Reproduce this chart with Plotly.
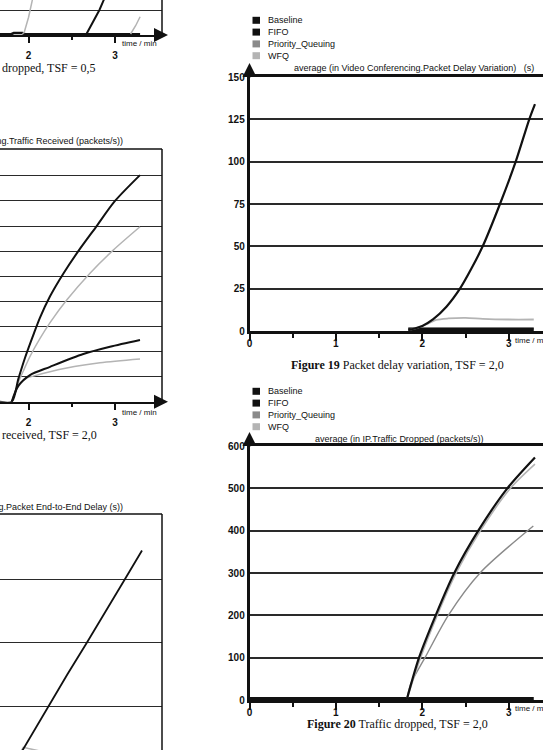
import plotly.graph_objects as go

W, H = 543, 750

# ---------------- data ----------------
# Left top chart: Traffic dropped, TSF = 0,5  (y-units arbitrary, gridline = 1)
a_base_t = [1.66, 1.80, 1.83, 1.93, 1.96, 2.60, 3.29]
a_base_v = [0.03, 0.03, 0.08, 0.08, 0.03, 0.03, 0.03]
a_grey1_t = [1.93, 1.95, 2.00, 2.03, 2.07]
a_grey1_v = [0.05, 0.10, 0.70, 1.20, 1.80]
a_black_t = [2.67, 2.72, 2.82, 2.87, 2.90]
a_black_v = [0.04, 0.35, 1.00, 1.40, 1.70]
a_grey2_t = [3.18, 3.24, 3.29]
a_grey2_v = [0.04, 0.38, 0.73]

# Left middle chart: Traffic Received, TSF = 2,0
b_black1_t = [1.66, 1.806, 1.882, 1.960, 2.055, 2.133, 2.249, 2.402, 2.576, 2.788, 3.000, 3.289]
b_black1_v = [0.0, 0.0, 0.9, 1.75, 2.65, 3.35, 4.2, 5.1, 6.0, 7.0, 8.0, 9.03]
b_grey1_t = [1.806, 1.88, 1.95, 2.017, 2.13, 2.249, 2.442, 2.711, 2.980, 3.289]
b_grey1_v = [0.0, 0.75, 1.3, 1.8, 2.5, 3.15, 4.05, 5.12, 6.04, 6.97]
b_black2_t = [1.806, 1.882, 2.017, 2.249, 2.634, 2.942, 3.289]
b_black2_v = [0.0, 0.63, 1.06, 1.39, 1.90, 2.19, 2.46]
b_grey2_t = [1.806, 1.882, 1.979, 2.055, 2.442, 2.827, 3.289]
b_grey2_v = [0.0, 0.60, 0.94, 1.02, 1.34, 1.55, 1.70]

# Left bottom chart: Packet End-to-End Delay
c_black_t = [1.80, 2.01, 2.237, 2.45, 2.676, 2.90, 3.116, 3.312]
c_black_v = [0.0, 0.49, 1.0, 1.50, 2.0, 2.50, 3.0, 3.45]
c_grey_t = [1.80, 1.94, 2.00, 2.17, 2.50, 3.30]
c_grey_v = [0.0, 0.35, 0.33, 0.28, 0.25, 0.25]

# Figure 19: Packet delay variation (s)
f19_fifo_t = [1.838, 2.0, 2.127, 2.282, 2.436, 2.57, 2.699, 2.899, 3.081, 3.238, 3.304]
f19_fifo_v = [0.5, 3.0, 7.0, 14.5, 25.0, 37.0, 50.0, 75.0, 100.0, 125.0, 134.0]
f19_wfq_t = [1.838, 1.95, 2.05, 2.16, 2.30, 2.50, 2.70, 3.00, 3.29]
f19_wfq_v = [0.5, 2.0, 4.0, 6.5, 7.4, 7.8, 7.2, 6.8, 6.8]
f19_pq_t = [1.838, 2.2, 2.6, 3.0, 3.29]
f19_pq_v = [1.3, 1.4, 1.3, 1.3, 1.3]
f19_base_t = [1.838, 3.29]
f19_base_v = [1.1, 1.1]

# Figure 20: Traffic dropped (packets/s)
f20_fifo_t = [1.819, 1.962, 2.155, 2.370, 2.648, 2.984, 3.304]
f20_fifo_v = [0, 100, 200, 300, 400, 500, 573]
f20_wfq_t = [1.819, 1.980, 2.173, 2.392, 2.673, 3.020, 3.304]
f20_wfq_v = [0, 100, 200, 300, 400, 500, 557]
f20_pq_t = [1.819, 1.870, 2.031, 2.301, 2.668, 3.285]
f20_pq_v = [0, 40, 100, 200, 300, 411]
f20_base_t = [0.0, 3.29]
f20_base_v = [2.5, 2.5]

legend_names = ["Baseline", "FIFO", "Priority_Queuing", "WFQ"]
legend_colors = ["#111111", "#111111", "#8a8a8a", "#b4b4b4"]

f19_yticks = [0, 25, 50, 75, 100, 125, 150]
f20_yticks = [0, 100, 200, 300, 400, 500, 600]
x_ticks_right = [0, 1, 2, 3]
x_ticks_left = [2, 3]

# ---------------- helpers ----------------
def px_x(x):
    return x / W

def px_y(y):
    return 1 - y / H

BLACK = "#111111"
GRID = "#2a2a2a"
LGREY = "#b4b4b4"
MGREY = "#8a8a8a"
SANS = "Liberation Sans, Arial, sans-serif"
SERIF = "Liberation Serif, Times New Roman, serif"

LEFT_T0 = 2 - 28.5 / 86.5
LEFT_T1 = 2 + (162 - 28.5) / 86.5
RIGHT_T0 = 0.0
RIGHT_T1 = (543 - 249.5) / 86.4

fig = go.Figure()

def add_line(t, v, color, width, ax, smooth=False):
    line = dict(color=color, width=width)
    if smooth:
        line.update(shape="spline", smoothing=0.8)
    fig.add_trace(go.Scatter(x=t, y=v, mode="lines", line=line,
                             xaxis="x" + ax, yaxis="y" + ax, showlegend=False, hoverinfo="skip"))

# left top
add_line(a_base_t, a_base_v, BLACK, 2.5, "")
add_line(a_grey1_t, a_grey1_v, LGREY, 1.5, "")
add_line(a_black_t, a_black_v, BLACK, 2, "")
add_line(a_grey2_t, a_grey2_v, LGREY, 1.5, "")
# left middle
add_line(b_grey1_t, b_grey1_v, LGREY, 1.5, "2", True)
add_line(b_grey2_t, b_grey2_v, LGREY, 1.5, "2", True)
add_line(b_black1_t, b_black1_v, BLACK, 2, "2", True)
add_line(b_black2_t, b_black2_v, BLACK, 2, "2", True)
# left bottom
add_line(c_grey_t, c_grey_v, LGREY, 1.5, "3")
add_line(c_black_t, c_black_v, BLACK, 1.8, "3")
# fig 19
add_line(f19_pq_t, f19_pq_v, MGREY, 2, "4")
add_line(f19_base_t, f19_base_v, BLACK, 3.5, "4")
add_line(f19_wfq_t, f19_wfq_v, LGREY, 1.8, "4", True)
add_line(f19_fifo_t, f19_fifo_v, BLACK, 2.2, "4", True)
# fig 20
add_line(f20_base_t, f20_base_v, BLACK, 4, "5")
add_line(f20_pq_t, f20_pq_v, MGREY, 1.4, "5", True)
add_line(f20_wfq_t, f20_wfq_v, LGREY, 1.6, "5", True)
add_line(f20_fifo_t, f20_fifo_v, BLACK, 2.2, "5", True)

tickfont = dict(family=SANS, size=10, color="#111", weight=600)

def left_xaxis(y_anchor, show_axis):
    d = dict(domain=[0, px_x(162)], anchor=y_anchor, range=[LEFT_T0, LEFT_T1],
             showgrid=False, zeroline=False, automargin=False)
    if show_axis:
        d.update(showline=True, linecolor=BLACK, linewidth=2,
                 ticks="outside", ticklen=6, tickwidth=1.5, tickcolor=BLACK,
                 tickvals=x_ticks_left, ticktext=[str(v) for v in x_ticks_left],
                 minor=dict(tickvals=[2.5], ticks="outside", ticklen=3, tickwidth=1.5, tickcolor=BLACK),
                 tickfont=tickfont, ticklabelstandoff=4)
    else:
        d.update(showline=False, ticks="", showticklabels=False)
    return d

def left_yaxis(x_anchor, y0, y1, rng, grid):
    return dict(domain=[px_y(y1), px_y(y0)], anchor=x_anchor, range=rng,
                tickvals=grid, showticklabels=False, showgrid=True, gridcolor=GRID, gridwidth=1.2,
                zeroline=False, showline=False, ticks="", automargin=False)

def right_xaxis(y_anchor):
    return dict(domain=[px_x(249.5), 1], anchor=y_anchor, range=[RIGHT_T0, RIGHT_T1],
                showline=True, linecolor=BLACK, linewidth=2.5, mirror=True,
                ticks="outside", ticklen=7, tickwidth=1.5, tickcolor=BLACK,
                tickvals=x_ticks_right, ticktext=[str(v) for v in x_ticks_right],
                minor=dict(tickvals=[0.5, 1.5, 2.5], ticks="outside", ticklen=4, tickwidth=1.5, tickcolor=BLACK),
                showgrid=False, zeroline=False, tickfont=tickfont, ticklabelstandoff=-6,
                automargin=False)

def right_yaxis(x_anchor, y0, y1, ticks):
    return dict(domain=[px_y(y1), px_y(y0)], anchor=x_anchor, range=[ticks[0], ticks[-1]],
                tickvals=ticks, ticktext=[str(v) for v in ticks],
                showgrid=True, gridcolor=GRID, gridwidth=1.5, zeroline=False,
                showline=True, linecolor=BLACK, linewidth=2.5, ticks="",
                tickfont=tickfont, ticklabelstandoff=0, automargin=False)

layout = dict(
    width=W, height=H, margin=dict(l=0, r=0, t=0, b=0, pad=0, autoexpand=False),
    paper_bgcolor="white", plot_bgcolor="white", showlegend=False,
    xaxis=left_xaxis("y", True),
    yaxis=left_yaxis("x", 0, 35, [0, 1.4], [1]),
    xaxis2=left_xaxis("y2", True),
    yaxis2=left_yaxis("x2", 149, 401.7, [0, 10.07], list(range(1, 10))),
    xaxis3=left_xaxis("y3", False),
    yaxis3=left_yaxis("x3", 514, 750, [0.307, 4.024], [1, 2, 3]),
    xaxis4=right_xaxis("y4"),
    yaxis4=right_yaxis("x4", 77, 331, f19_yticks),
    xaxis5=right_xaxis("y5"),
    yaxis5=right_yaxis("x5", 446, 700, f20_yticks),
)
fig.update_layout(**layout)

ann = []
shapes = []

def text(x, y, s, size, family=SANS, xanchor="left", weight=None):
    f = dict(family=family, size=size, color="#111")
    if weight:
        f["weight"] = weight
    ann.append(dict(x=px_x(x), y=px_y(y), xref="paper", yref="paper", text=s, showarrow=False,
                    xanchor=xanchor, yanchor="middle", font=f))

def arrow(x, y, ax, ay):
    ann.append(dict(x=px_x(x), y=px_y(y), xref="paper", yref="paper", text="", showarrow=True,
                    ax=ax, ay=ay, arrowhead=2, arrowsize=1.4, arrowwidth=2, arrowcolor=BLACK,
                    standoff=0, startstandoff=0))

# left chart borders: right side for all, top for middle and bottom
for ax in ["", "2", "3"]:
    shapes.append(dict(type="line", xref="x" + ax + " domain", yref="y" + ax + " domain",
                       x0=1, x1=1, y0=0, y1=1, line=dict(color=BLACK, width=1.5)))
for ax in ["2", "3"]:
    shapes.append(dict(type="line", xref="x" + ax + " domain", yref="y" + ax + " domain",
                       x0=0, x1=1, y0=1, y1=1, line=dict(color=BLACK, width=1.5)))

# x-axis arrows for left charts
arrow(168, 35, -14, 0)
arrow(168, 401.7, -14, 0)
# y-axis arrows for right charts
arrow(249.5, 63, 0, 16)
arrow(249.5, 432, 0, 16)

# time/min labels
text(120, 44, "time / min", 8)
text(120, 412, "time / min", 8)
text(513, 340, "time / min", 8)
text(513, 708, "time / min", 8)

# chart titles
text(125, 141, "average (in Video Conferencing.Traffic Received (packets/s))", 9, xanchor="right")
text(125, 507, "average (in Video Conferencing.Packet End-to-End Delay (s))", 9, xanchor="right")
text(292, 68, "average (in Video Conferencing.Packet Delay Variation)   (s)", 9)
text(313, 439, "average (in IP.Traffic Dropped (packets/s))", 9)

# captions
text(0, 68, "dropped, TSF = 0,5", 12, family=SERIF)
text(0, 434.5, "received, TSF = 2,0", 12, family=SERIF)
text(397, 365, "<b>Figure 19</b> Packet delay variation, TSF = 2,0", 12, family=SERIF, xanchor="center")
text(397, 724, "<b>Figure 20</b> Traffic dropped, TSF = 2,0", 12, family=SERIF, xanchor="center")

# legends
for y0 in (20.3, 391.3):
    for i, (name, col) in enumerate(zip(legend_names, legend_colors)):
        yc = y0 + i * 11.8
        shapes.append(dict(type="rect", xref="paper", yref="paper",
                           x0=px_x(252.5), x1=px_x(260), y0=px_y(yc + 3.5), y1=px_y(yc - 3.5),
                           fillcolor=col, line=dict(width=0)))
        text(265.5, yc, name, 9)

fig.update_layout(annotations=ann, shapes=shapes)
fig.write_html("out.html")
